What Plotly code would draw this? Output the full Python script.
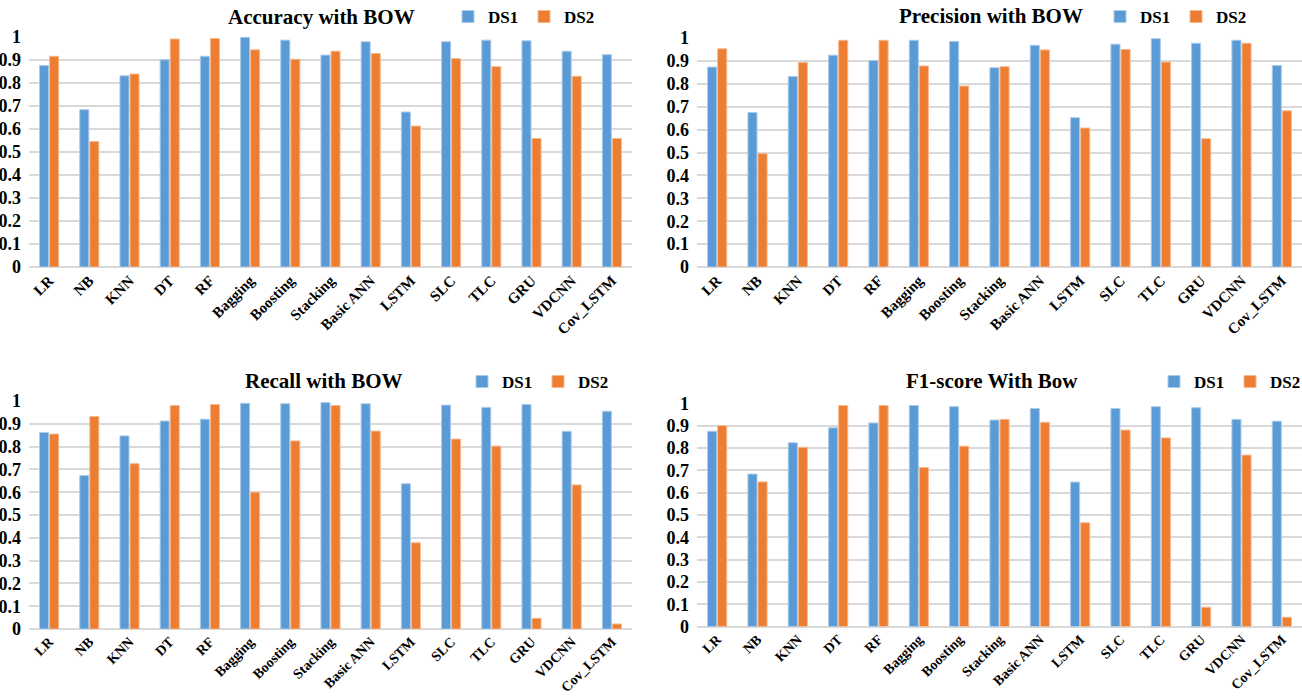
import plotly.graph_objects as go

categories = ["LR", "NB", "KNN", "DT", "RF", "Bagging", "Boosting", "Stacking",
              "Basic ANN", "LSTM", "SLC", "TLC", "GRU", "VDCNN", "Cov_LSTM"]

acc_ds1 = [0.875, 0.683, 0.830, 0.900, 0.915, 0.998, 0.985, 0.920, 0.978, 0.673, 0.978, 0.985, 0.982, 0.937, 0.922]
acc_ds2 = [0.915, 0.545, 0.838, 0.990, 0.992, 0.943, 0.902, 0.937, 0.927, 0.612, 0.905, 0.870, 0.558, 0.828, 0.558]

prec_ds1 = [0.873, 0.675, 0.832, 0.925, 0.902, 0.990, 0.985, 0.870, 0.968, 0.652, 0.973, 0.997, 0.977, 0.990, 0.880]
prec_ds2 = [0.953, 0.495, 0.893, 0.990, 0.990, 0.878, 0.790, 0.875, 0.948, 0.607, 0.950, 0.895, 0.560, 0.977, 0.682]

rec_ds1 = [0.862, 0.673, 0.847, 0.912, 0.920, 0.990, 0.988, 0.993, 0.988, 0.637, 0.982, 0.972, 0.985, 0.867, 0.955]
rec_ds2 = [0.855, 0.932, 0.725, 0.980, 0.985, 0.600, 0.825, 0.980, 0.868, 0.378, 0.833, 0.802, 0.047, 0.632, 0.022]

f1_ds1 = [0.875, 0.683, 0.823, 0.890, 0.912, 0.990, 0.985, 0.925, 0.977, 0.647, 0.977, 0.985, 0.980, 0.928, 0.920]
f1_ds2 = [0.900, 0.648, 0.803, 0.990, 0.990, 0.712, 0.808, 0.928, 0.915, 0.465, 0.880, 0.845, 0.087, 0.768, 0.042]

titles = ["Accuracy with BOW", "Precision with BOW", "Recall with BOW", "F1-score With Bow"]
series_names = ["DS1", "DS2"]
ytick_vals = [0, 0.1, 0.2, 0.3, 0.4, 0.5, 0.6, 0.7, 0.8, 0.9, 1]
ytick_text = ["0", "0.1", "0.2", "0.3", "0.4", "0.5", "0.6", "0.7", "0.8", "0.9", "1"]

W, H = 1302, 697
BLUE, ORANGE = "#5B9BD5", "#ED7D31"
BLUE_EDGE, ORANGE_EDGE = "#A9CBEA", "#F6B98F"
FONT = "Liberation Serif"

panels = [
    # data, x pixel span, y pixel (zero, one), title centre (px), legend DS1 square centre (px), x-label size
    dict(d1=acc_ds1, d2=acc_ds2, xs=(29, 632), ys=(267, 36.7), tc=(321, 17), lc=(468, 17), fs=15),
    dict(d1=prec_ds1, d2=prec_ds2, xs=(697, 1302), ys=(267, 38), tc=(991, 16), lc=(1120, 17), fs=15),
    dict(d1=rec_ds1, d2=rec_ds2, xs=(29, 632), ys=(629, 401), tc=(324, 381), lc=(482, 382), fs=14),
    dict(d1=f1_ds1, d2=f1_ds2, xs=(697, 1302), ys=(626.6, 403.3), tc=(992, 381), lc=(1174, 382), fs=14),
]

fig = go.Figure()
layout = dict(
    width=W, height=H, margin=dict(l=0, r=0, t=0, b=0, autoexpand=False),
    paper_bgcolor="white", plot_bgcolor="white",
    bargap=0.5, bargroupgap=0.1, barmode="group",
    font=dict(family=FONT, color="black"),
    annotations=[],
)

for i, p in enumerate(panels):
    n = "" if i == 0 else str(i + 1)
    xa, ya = "x" + n, "y" + n
    leg = "legend" + n
    for name, vals, col, edge in [(series_names[0], p["d1"], BLUE, BLUE_EDGE),
                                  (series_names[1], p["d2"], ORANGE, ORANGE_EDGE)]:
        fig.add_trace(go.Bar(
            x=categories, y=vals, name=name, xaxis=xa, yaxis=ya, legend=leg,
            marker=dict(color=col, line=dict(color=edge, width=1)),
        ))
    x0, x1 = p["xs"]
    y0, y1 = p["ys"]
    layout["xaxis" + n] = dict(
        domain=[x0 / W, x1 / W], anchor=ya, tickangle=-45, automargin=False,
        tickfont=dict(family=FONT, size=p["fs"], color="black", weight="bold"),
        showgrid=False, showline=False, ticks="", zeroline=False,
        ticklabelstandoff=1,
    )
    layout["yaxis" + n] = dict(
        domain=[1 - y0 / H, 1 - y1 / H], anchor=xa, range=[0, 1], automargin=False,
        tickvals=ytick_vals, ticktext=ytick_text,
        tickfont=dict(family=FONT, size=18, color="black", weight="bold"),
        showgrid=True, gridcolor="#D9D9D9", gridwidth=1.5,
        zeroline=True, zerolinecolor="#D9D9D9", zerolinewidth=1.5,
        showline=False, ticks="", ticklabelstandoff=7,
    )
    layout["annotations"].append(dict(
        text=titles[i], x=p["tc"][0] / W, y=1 - p["tc"][1] / H, xref="paper", yref="paper",
        xanchor="center", yanchor="middle", showarrow=False,
        font=dict(family=FONT, size=21, color="black", weight="bold"),
    ))
    layout[leg] = dict(
        orientation="h", x=(p["lc"][0] - 20) / W, y=1 - p["lc"][1] / H,
        xanchor="left", yanchor="middle", bgcolor="rgba(0,0,0,0)",
        font=dict(family=FONT, size=17, color="black", weight="bold"),
        entrywidth=31, entrywidthmode="pixels", traceorder="normal",
    )

fig.update_layout(**layout)
fig.write_html(
    "out.html",
    config={"displayModeBar": False},
    post_script="document.body.style.margin='0';document.body.style.overflow='hidden';",
)
